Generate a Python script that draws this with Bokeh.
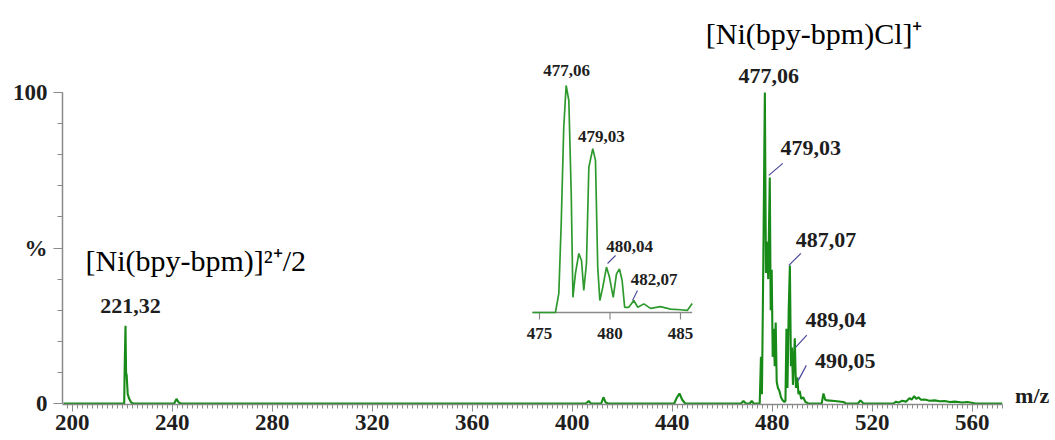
from bokeh.plotting import figure
from bokeh.models import Range1d, FixedTicker
from bokeh.embed import file_html
from bokeh.resources import INLINE
from bokeh.core.properties import value

# ---------------- data ----------------
spec_mz = [196.5, 220.8, 221.0, 221.32, 221.55, 221.8, 222.2, 222.8, 223.6, 224.5,
           240.8, 241.7, 242.6, 243.5,
           405.5, 406.6, 407.5, 411.6, 412.5, 413.4, 414.5,
           440.8, 441.8, 442.9, 444.0, 445.2,
           467.5, 468.5, 469.5, 471.0, 471.8, 472.6,
           475.0, 475.5, 475.9, 476.5, 477.06, 477.5, 478.0, 478.4, 479.03, 479.4, 479.8,
           480.2, 480.6, 481.0, 481.4, 481.8, 482.3, 482.9, 483.5, 484.2, 484.9, 485.3,
           485.7, 486.1, 486.6, 487.07, 487.5, 487.9, 488.3, 488.7, 489.04, 489.5, 490.05,
           490.5, 491.0, 491.6, 492.4, 493.3, 494.5,
           499.8, 500.5, 501.2, 502.0, 505.0, 508.5, 509.5,
           514.3, 515.3, 516.5,
           528.5, 529.5, 530.5, 532.0, 533.5, 535.0, 535.8, 536.8, 537.6, 538.5, 539.5,
           541.0, 543.0, 545.0, 547.0, 549.0, 551.0, 553.0, 556.0, 558.0, 561.0, 572.0]
spec_int = [0, 0, 12, 25, 10, 9, 3, 1.5, 0.3, 0,
            0, 1.5, 0.3, 0,
            0, 0.8, 0, 0, 2.0, 0.3, 0,
            0, 1.8, 3.2, 1.2, 0,
            0, 0.8, 0, 0, 0.8, 0,
            0, 15, 3, 50, 100, 42, 52, 40, 72.7, 30, 43,
            15, 24, 12, 26, 7, 5, 4, 2, 1, 0.5, 0.8,
            24, 5, 30, 44.4, 12, 18, 6, 14, 21, 5, 8.4,
            3, 4, 1.5, 2, 0.5, 0,
            0, 3.2, 1.2, 1.0, 0.8, 0.5, 0,
            0, 1.0, 0,
            0, 0.6, 0.3, 0.9, 0.6, 1.8, 1.2, 2.4, 1.5, 2.0, 1.2,
            1.3, 0.9, 1.0, 0.7, 0.8, 0.5, 0.6, 0.3, 0.5, 0.1, 0]

peak_mz = [221.32, 477.06, 479.03, 487.07, 489.04, 490.05]
peak_int = [25.0, 100.0, 72.7, 44.4, 21.0, 8.4]
peak_text = ["221,32", "477,06", "479,03", "487,07", "489,04", "490,05"]

inset_mz = [474.50, 476.13, 476.37, 476.54, 476.72, 476.89, 477.08, 477.25, 477.37, 477.55,
            477.79, 477.98, 478.14, 478.33, 478.50, 478.78, 478.97, 479.13, 479.28, 479.49,
            479.75, 479.96, 480.23, 480.46, 480.67, 480.86, 481.04, 481.33, 481.69, 481.97,
            482.40, 482.87, 483.58, 484.29, 485.00, 485.48, 485.83]
inset_int = [0, 0, 8.4, 39.2, 81.6, 100, 93.4, 52.4, 6.7, 17.2,
             26.0, 22.9, 9.7, 21.6, 64.0, 72.2, 67.0, 20.0, 5.3, 11.2,
             20.0, 15.6, 6.7, 17.0, 19.2, 14.1, 2.3, 2.3, 5.3, 2.3,
             3.8, 1.8, 2.6, 1.5, 1.2, 0.9, 4.0]
inset_peak_mz = [477.06, 479.03, 480.04, 482.07]
inset_peak_int = [100.0, 72.0, 20.0, 5.0]
inset_peak_text = ["477,06", "479,03", "480,04", "482,07"]

x_ticks = [200, 240, 280, 320, 360, 400, 440, 480, 520, 560]
x_minor_ticks = list(range(198, 573, 2))
y_ticks = [0, 50, 100]
y_tick_text = ["0", "%", "100"]
y_minor_ticks = list(range(0, 101, 10))
inset_ticks = [475, 480, 485]
inset_tick_text = ["475", "480", "485"]

ion_text = ["[Ni(bpy-bpm)]²⁺/2", "[Ni(bpy-bpm)Cl]⁺"]
ion_mz = [221.32, 477.06]
ion_int = [25.0, 100.0]
axis_title = "m/z"

# ---------------- layout / styles ----------------
W, H = 1055, 440
BL, BB = 62, 36
IMG_L, IMG_R, IMG_T, IMG_B = BL, W, 0, H - BB

PXX, X200 = 2.5, 71.7           # main x scale (px per m/z unit), pixel of m/z 200
Y0, Y100 = IMG_B - 1, 92        # main y pixels of 0 % and 100 %
PXY = (Y0 - Y100) / 100.0

IX475, IPX = 539.0, 14.1        # inset x mapping
IY0, IPY = 312.0, 2.27          # inset y mapping

GREEN = "#178a17"
GREY = "#8a8a8a"
TXT = "#1e1e1e"
LEAD = "#4a4a9a"
SERIF = "Liberation Serif"

p = figure(width=W, height=H, output_backend="svg", toolbar_location=None,
           x_range=Range1d(200 + (IMG_L - X200) / PXX, 200 + (IMG_R - X200) / PXX),
           y_range=Range1d(-(IMG_B - Y0) / PXY, (Y0 - IMG_T) / PXY),
           min_border_left=BL, min_border_right=0, min_border_top=0, min_border_bottom=BB)
p.extra_x_ranges = {"ix": Range1d(475 + (IMG_L - IX475) / IPX, 475 + (IMG_R - IX475) / IPX)}
p.extra_y_ranges = {"iy": Range1d((IY0 - IMG_B) / IPY, (IY0 - IMG_T) / IPY)}

p.outline_line_color = None
p.grid.visible = False
p.background_fill_color = "white"
p.border_fill_color = "white"

# x axis
xa = p.xaxis[0]
xa.ticker = FixedTicker(ticks=x_ticks, minor_ticks=x_minor_ticks)
xa.bounds = (p.x_range.start, 572)
xa.axis_line_color = GREY
xa.axis_line_width = 1.5
xa.major_tick_line_color = GREY
xa.minor_tick_line_color = GREY
xa.major_tick_in = 0
xa.major_tick_out = 7
xa.minor_tick_in = 0
xa.minor_tick_out = 4
xa.major_label_standoff = 3
xa.major_label_text_font = SERIF
xa.major_label_text_font_style = "bold"
xa.major_label_text_font_size = "23px"
xa.major_label_text_color = TXT

# y axis
ya = p.yaxis[0]
ya.ticker = FixedTicker(ticks=y_ticks, minor_ticks=y_minor_ticks)
ya.bounds = (0, 100)
ya.major_label_overrides = {t: s for t, s in zip(y_ticks, y_tick_text)}
ya.axis_line_color = GREY
ya.axis_line_width = 1.5
ya.major_tick_line_color = GREY
ya.minor_tick_line_color = GREY
ya.major_tick_in = 0
ya.major_tick_out = 9
ya.minor_tick_in = 0
ya.minor_tick_out = 5
ya.major_label_standoff = 6
ya.major_label_text_font = SERIF
ya.major_label_text_font_style = "bold"
ya.major_label_text_font_size = "23px"
ya.major_label_text_color = TXT

# main spectrum
p.line(spec_mz, spec_int, line_color=GREEN, line_width=2.1)

# peak labels (offsets in screen px)
pk_dx = [5, 4, 41, 36, 41, 48]
pk_dy = [-20, -17, -29, -25, -18, -16]
p.text(x=peak_mz, y=peak_int, text=peak_text, x_offset=pk_dx, y_offset=pk_dy,
       text_font=value(SERIF), text_font_style="bold", text_font_size="22px",
       text_color=TXT, text_align="center", text_baseline="middle")

# leader lines for main labels
ld_idx = [2, 3, 4, 5]
ld_rel = [(-1, -2, 13, -14), (-1, 0, 11, -12), (1, 9, 12, -3), (1, 3, 9, -12)]
p.segment(x0=[peak_mz[i] + r[0] / PXX for i, r in zip(ld_idx, ld_rel)],
          y0=[peak_int[i] - r[1] / PXY for i, r in zip(ld_idx, ld_rel)],
          x1=[peak_mz[i] + r[2] / PXX for i, r in zip(ld_idx, ld_rel)],
          y1=[peak_int[i] - r[3] / PXY for i, r in zip(ld_idx, ld_rel)],
          line_color=LEAD, line_width=1.2)

# ion annotations
p.text(x=ion_mz, y=ion_int, text=ion_text, x_offset=[-40, -59], y_offset=[-65, -59],
       text_font=value(SERIF), text_font_size="30px", text_color="black",
       text_align="left", text_baseline="middle")

# axis title m/z
p.text(x=[572], y=[0], text=[axis_title], x_offset=[30], y_offset=[-8],
       text_font=value(SERIF), text_font_style="bold", text_font_size="22px",
       text_color=TXT, text_align="center", text_baseline="middle")

# ---------------- inset ----------------
p.segment(x0=[inset_mz[0]], y0=[0], x1=[inset_mz[-1]], y1=[0],
          x_range_name="ix", y_range_name="iy", line_color=GREY, line_width=1.5)
p.segment(x0=inset_ticks, y0=[0] * len(inset_ticks), x1=inset_ticks,
          y1=[-7 / IPY] * len(inset_ticks),
          x_range_name="ix", y_range_name="iy", line_color=GREY, line_width=1.2)
p.text(x=inset_ticks, y=[0] * len(inset_ticks), text=inset_tick_text, y_offset=[21] * 3,
       x_range_name="ix", y_range_name="iy",
       text_font=value(SERIF), text_font_style="bold", text_font_size="17px",
       text_color=TXT, text_align="center", text_baseline="middle")
p.line(inset_mz, inset_int, x_range_name="ix", y_range_name="iy",
       line_color="#2e9a2e", line_width=1.7)
ip_dx = [-2, 5, 19, 15]
ip_dy = [-15, -13, -21, -22]
p.text(x=inset_peak_mz, y=inset_peak_int, text=inset_peak_text, x_offset=ip_dx, y_offset=ip_dy,
       x_range_name="ix", y_range_name="iy",
       text_font=value(SERIF), text_font_style="bold", text_font_size="17px",
       text_color=TXT, text_align="center", text_baseline="middle")
il_idx = [2, 3]
il_rel = [(-3, -3.6, 5, -11.6), (-6.7, -0.7, -1.7, -10.7)]
p.segment(x0=[inset_peak_mz[i] + r[0] / IPX for i, r in zip(il_idx, il_rel)],
          y0=[inset_peak_int[i] - r[1] / IPY for i, r in zip(il_idx, il_rel)],
          x1=[inset_peak_mz[i] + r[2] / IPX for i, r in zip(il_idx, il_rel)],
          y1=[inset_peak_int[i] - r[3] / IPY for i, r in zip(il_idx, il_rel)],
          x_range_name="ix", y_range_name="iy", line_color=LEAD, line_width=1.1)

open("out.html", "w").write(file_html(p, INLINE))
